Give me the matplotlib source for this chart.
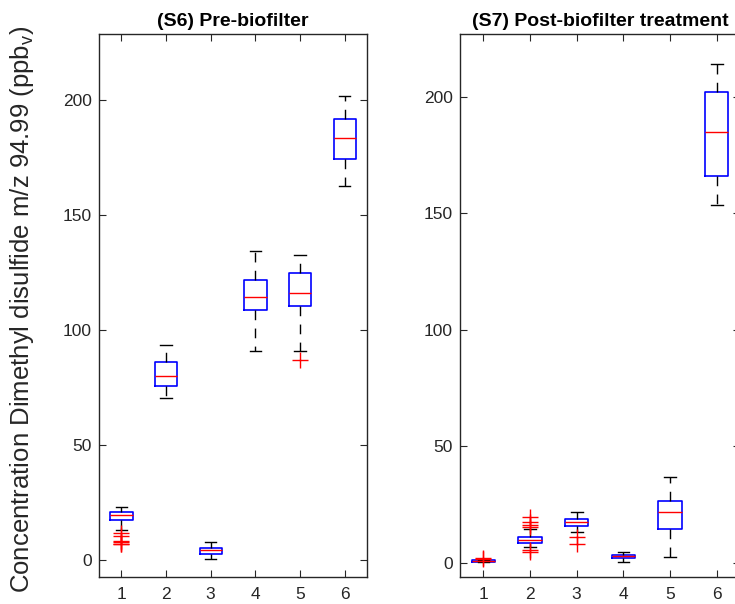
import matplotlib.pyplot as plt

plt.rcParams['font.family'] = ['Liberation Sans', 'DejaVu Sans']

# box statistics: whislo, q1, median, q3, whishi, outliers
s6_whislo = [13.3, 70.7, 0.4, 91.0, 91.0, 162.7]
s6_q1 = [17.7, 75.7, 2.9, 108.7, 110.6, 174.6]
s6_med = [19.6, 80.0, 4.3, 114.5, 116.2, 183.6]
s6_q3 = [20.9, 86.1, 5.5, 121.7, 125.1, 191.7]
s6_whishi = [23.2, 93.5, 8.0, 134.5, 132.9, 201.9]
s6_fliers = [[12.0, 10.4, 8.3, 7.8, 7.3, 6.9], [], [], [], [87.3], []]

s7_whislo = [0.3, 6.9, 13.1, 0.4, 2.4, 153.6]
s7_q1 = [0.5, 8.8, 16.0, 2.0, 14.7, 166.1]
s7_med = [0.85, 10.0, 17.6, 2.8, 21.9, 184.9]
s7_q3 = [1.2, 11.0, 19.1, 3.6, 26.7, 201.9]
s7_whishi = [1.5, 14.6, 21.7, 4.7, 36.7, 214.0]
s7_fliers = [[2.2, 1.8], [19.8, 17.5, 16.2, 15.6, 5.6, 4.9], [11.0, 8.1], [], [], []]

groups = [1, 2, 3, 4, 5, 6]
titles = ['(S6) Pre-biofilter', '(S7) Post-biofilter treatment']
ylims = [(-7.25, 228.8), (-6.0, 227.0)]

fig = plt.figure(figsize=(7.35, 6.04), dpi=100)
ax1 = fig.add_axes([99/735, 1 - 577/604, 268/735, 543/604])
ax2 = fig.add_axes([460/735, 1 - 577/604, 280/735, 543/604])

panels = [
    (ax1, s6_whislo, s6_q1, s6_med, s6_q3, s6_whishi, s6_fliers),
    (ax2, s7_whislo, s7_q1, s7_med, s7_q3, s7_whishi, s7_fliers),
]

gray = '#262626'
for i, (ax, wlo, q1, med, q3, whi, fl) in enumerate(panels):
    stats = []
    for k in range(len(groups)):
        stats.append(dict(whislo=wlo[k], q1=q1[k], med=med[k], q3=q3[k],
                          whishi=whi[k], fliers=fl[k]))
    ax.bxp(stats, positions=groups, widths=0.5, capwidths=0.25,
           boxprops=dict(color='#0000ff', linewidth=1.2),
           medianprops=dict(color='#ff0000', linewidth=1.0),
           whiskerprops=dict(color='black', linewidth=1.0, linestyle=(0, (7, 6))),
           capprops=dict(color='black', linewidth=1.0),
           flierprops=dict(marker='+', markeredgecolor='#ff0000',
                           markersize=11, markeredgewidth=1.0, linestyle='none'))
    ax.set_xlim(0.5, 6.5)
    ax.set_ylim(*ylims[i])
    ax.set_xticks(groups)
    ax.set_xticklabels([str(g) for g in groups])
    ax.set_yticks([0, 50, 100, 150, 200])
    ax.tick_params(direction='in', length=5, width=0.8, colors=gray,
                   labelsize=12.5, top=True, right=True)
    ax.tick_params(axis='x', pad=7)
    ax.tick_params(axis='y', pad=5)
    for sp in ax.spines.values():
        sp.set_color(gray)
        sp.set_linewidth(1.0)
    ax.set_title(titles[i], fontsize=14, fontweight='bold', color='black', pad=6)

fig.text(22/735, 1 - 309/604,
         'Concentration Dimethyl disulfide m/z 94.99 (ppb$_\\mathregular{v}$)',
         rotation=90, ha='center', va='center', fontsize=18.5, color=gray)

fig.savefig('out.png', dpi=100)
